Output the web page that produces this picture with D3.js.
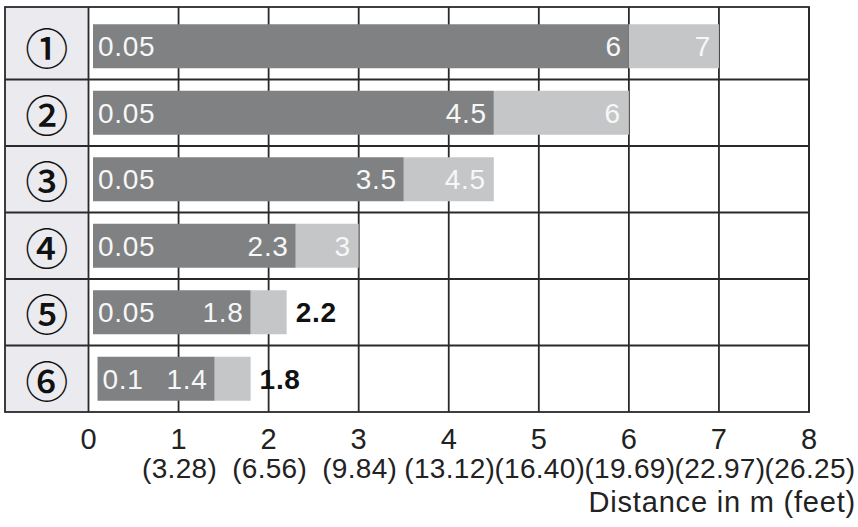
<!DOCTYPE html>
<html>
<head>
<meta charset="utf-8">
<script src="https://cdn.jsdelivr.net/npm/d3@7"></script>
<style>
  body { margin: 0; background: #fff; }
  svg { display: block; }
</style>
</head>
<body>
<svg class="svg" width="858" height="527"></svg>
<script>
// rows of the chart, top to bottom
let rowLabels = ['①','②','③','④','⑤','⑥'];
let startVals = [0.05, 0.05, 0.05, 0.05, 0.05, 0.1];
let darkVals  = [6, 4.5, 3.5, 2.3, 1.8, 1.4];
let lightVals = [7, 6, 4.5, 3, 2.2, 1.8];

let ticksM = [0, 1, 2, 3, 4, 5, 6, 7, 8];
let ticksFt = ['', '(3.28)', '(6.56)', '(9.84)', '(13.12)', '(16.40)', '(19.69)', '(22.97)', '(26.25)'];
let axisTitle = 'Distance in m (feet)';

let dark_color = '#7f8183', light_color = '#c4c6c8', line_color = '#2a2a2a', label_bg = '#ebebef';
let font = '"Liberation Sans", Arial, sans-serif';

let frameLeft = 5, frameTop = 7, frameBottom = 412;

let svg = d3.select('.svg');

let x = d3.scaleLinear().domain([0, 8]).range([88.5, 809]);
let y = d3.scaleBand().domain(d3.range(rowLabels.length)).range([13, frameBottom]);

let barH = 44;

// label column background
svg.append('rect')
    .attr('x', frameLeft).attr('y', frameTop)
    .attr('width', x(0) - frameLeft).attr('height', frameBottom - frameTop)
    .attr('fill', label_bg);

// vertical grid
svg.selectAll('.vgrid').data(ticksM).enter().append('line')
    .attr('class', 'vgrid')
    .attr('x1', d => x(d)).attr('x2', d => x(d))
    .attr('y1', frameTop).attr('y2', frameBottom)
    .attr('stroke', line_color).attr('stroke-width', 1.8);

// horizontal grid (row separators)
let rowLines = d3.range(1, rowLabels.length).map(i => y(i));
svg.selectAll('.hgrid').data(rowLines).enter().append('line')
    .attr('class', 'hgrid')
    .attr('x1', frameLeft).attr('x2', x(8))
    .attr('y1', d => d).attr('y2', d => d)
    .attr('stroke', line_color).attr('stroke-width', 1.8);

// outer frame
svg.append('rect')
    .attr('x', frameLeft).attr('y', frameTop)
    .attr('width', x(8) - frameLeft).attr('height', frameBottom - frameTop)
    .attr('fill', 'none').attr('stroke', line_color).attr('stroke-width', 1.8);

// circled row numbers
svg.selectAll('.rowLabel').data(rowLabels).enter().append('text')
    .attr('class', 'rowLabel')
    .attr('x', (frameLeft + x(0)) / 2)
    .attr('y', (d, i) => y(i) + y.bandwidth() / 2)
    .attr('text-anchor', 'middle')
    .attr('dominant-baseline', 'central')
    .style('font-family', '"Noto Sans CJK JP", "Noto Sans CJK SC", sans-serif')
    .style('font-size', '43px')
    .style('font-weight', '500')
    .attr('fill', '#111')
    .text(d => d);

// bars
for (let i = 0; i < rowLabels.length; i++) {
    let yTop = y(i) + (y.bandwidth() - barH) / 2;
    let yBase = yTop + barH / 2 + 10;
    let g = svg.append('g').attr('class', 'row');

    g.append('rect')
        .attr('x', x(darkVals[i])).attr('y', yTop)
        .attr('width', x(lightVals[i]) - x(darkVals[i])).attr('height', barH)
        .attr('fill', light_color);
    g.append('rect')
        .attr('x', x(startVals[i])).attr('y', yTop)
        .attr('width', x(darkVals[i]) - x(startVals[i])).attr('height', barH)
        .attr('fill', dark_color);

    g.append('text')
        .attr('x', x(startVals[i]) + 5).attr('y', yBase)
        .style('font-family', font).style('font-size', '28px')
        .style('letter-spacing', '0.7px')
        .attr('fill', '#f7f7f7')
        .text(startVals[i]);

    g.append('text')
        .attr('x', x(darkVals[i]) - 7).attr('y', yBase)
        .attr('text-anchor', 'end')
        .style('font-family', font).style('font-size', '28px')
        .style('letter-spacing', '0.7px')
        .attr('fill', '#f7f7f7')
        .text(darkVals[i]);

    let inside = x(lightVals[i]) - x(darkVals[i]) > 45;
    g.append('text')
        .attr('x', inside ? x(lightVals[i]) - 8 : x(lightVals[i]) + 9)
        .attr('y', yBase)
        .attr('text-anchor', inside ? 'end' : 'start')
        .style('font-family', font).style('font-size', '28px')
        .style('letter-spacing', '0.7px')
        .style('font-weight', inside ? 'normal' : 'bold')
        .attr('fill', inside ? '#f7f7f7' : '#111')
        .text(lightVals[i]);
}

// axis labels in metres
svg.selectAll('.tickM').data(ticksM).enter().append('text')
    .attr('class', 'tickM')
    .attr('x', d => x(d)).attr('y', 449)
    .attr('text-anchor', 'middle')
    .style('font-family', font).style('font-size', '29px')
    .attr('fill', '#222')
    .text(d => d);

// axis labels in feet
svg.selectAll('.tickFt').data(ticksM).enter().append('text')
    .attr('class', 'tickFt')
    .attr('x', d => x(d) + 1).attr('y', 478)
    .attr('text-anchor', 'middle')
    .style('font-family', font).style('font-size', '28px')
    .style('letter-spacing', '0.3px')
    .attr('fill', '#222')
    .text((d, i) => ticksFt[i]);

svg.append('text')
    .attr('x', 856).attr('y', 512)
    .attr('text-anchor', 'end')
    .style('font-family', font).style('font-size', '29px')
    .style('letter-spacing', '0.8px')
    .attr('fill', '#222')
    .text(axisTitle);
</script>
</body>
</html>
